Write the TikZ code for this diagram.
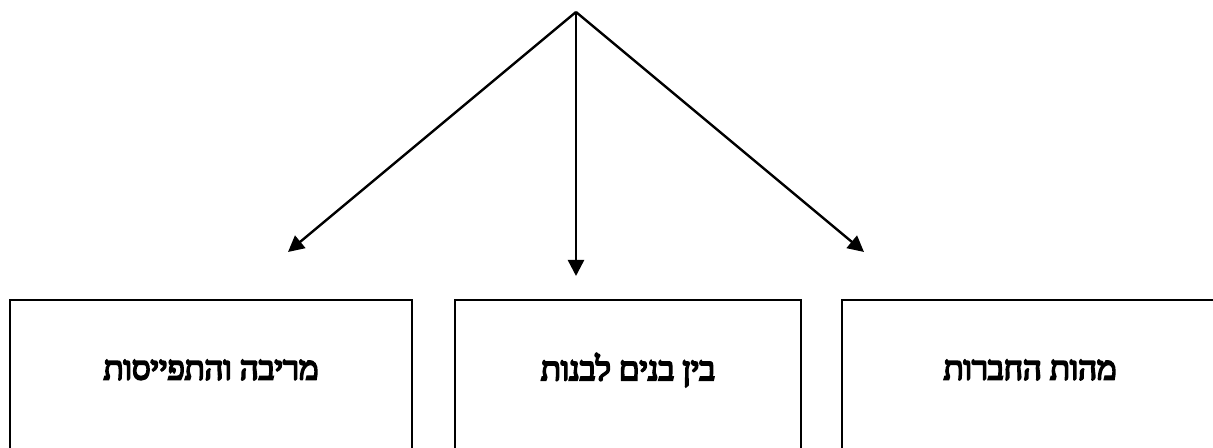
\documentclass[tikz,border=0pt]{standalone}
\usepackage{fontspec}
\usetikzlibrary{arrows.meta}
\newfontfamily\hebfont[Script=Hebrew,FakeBold=6]{Liberation Serif}
\TeXXeTstate=1
\begin{document}
\begin{tikzpicture}[x=0.75pt,y=-0.75pt,
  conn/.style={line width=1.8pt,-{Triangle[length=12pt,width=12pt]}},
  box/.style={draw,line width=1.7pt,minimum width=#1*0.75pt,minimum height=170*0.75pt,inner sep=0pt},
  lbl/.style={font=\hebfont\fontsize{24.5}{29}\selectfont,inner sep=0pt}]
\useasboundingbox (0,0) rectangle (1213,448);
\coordinate (top) at (576,12);
\coordinate (tl) at (288,252);
\coordinate (tm) at (576,276);
\coordinate (tr) at (864,252);
\draw[conn] (top) -- (tl);
\draw[conn] (top) -- (tm);
\draw[conn] (top) -- (tr);
\node[box=402] (bl) at (211,385) {};
\node[box=346] (bm) at (628,385) {};
\node[box=376] (br) at (1030,385) {};
\node[lbl] (l1) at (211,370) {\beginR מריבה והתפייסות\endR};
\node[lbl] (l2) at (628,370) {\beginR בין בנים לבנות\endR};
\node[lbl] (l3) at (1030,370) {\beginR מהות החברות\endR};
\end{tikzpicture}
\end{document}
